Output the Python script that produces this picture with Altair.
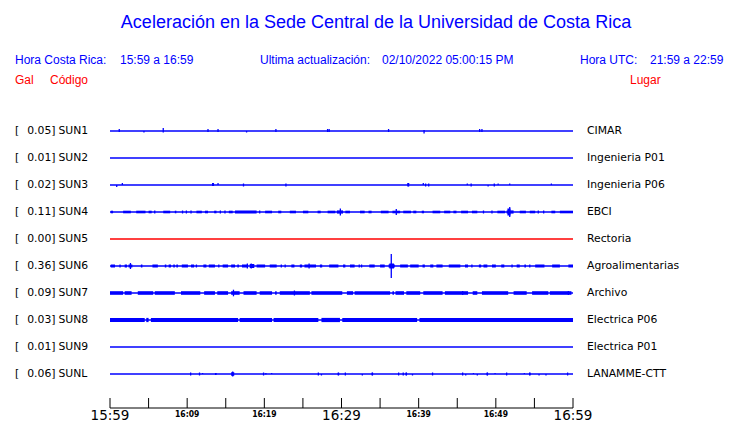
import altair as alt
import pandas as pd

# ---------------- data ----------------
codes = ["SUN1", "SUN2", "SUN3", "SUN4", "SUN5", "SUN6", "SUN7", "SUN8", "SUN9", "SUNL"]
gal = ["0.05", "0.01", "0.02", "0.11", "0.00", "0.36", "0.09", "0.03", "0.01", "0.06"]
places = ["CIMAR", "Ingenieria P01", "Ingenieria P06", "EBCI", "Rectoria",
          "Agroalimentarias", "Archivo", "Electrica P06", "Electrica P01", "LANAMME-CTT"]
trace_colors = ["#0000ff", "#0000ff", "#0000ff", "#0000ff", "#ff0000",
                "#0000ff", "#0000ff", "#0000ff", "#0000ff", "#0000ff"]

# spikes: (minute after 15:59, deflection up, deflection down)
sun1_spikes = [(1.2, 2, 1), (4.4, 0, 1.5), (6.9, 3, 1.5), (12.7, 2, 1), (14.0, 2, 1),
               (17.7, 0, 1.5), (21.5, 2, 1), (28.2, 2, 1), (28.4, 2, 1), (36.1, 2, 1),
               (40.7, 1, 2.5), (47.9, 2, 1), (48.2, 2, 1)]
sun2_spikes = []
sun3_spikes = [(0.87, 0, 2), (1.6, 2, 0), (13.3, 2, 1), (13.4, 2, 1), (14.0, 2, 0), (17.3, 1.5, 1.5),
               (22.8, 1.5, 1.5), (38.6, 2, 1.5), (38.7, 2, 1.5), (40.6, 2, 0), (40.9, 1.5, 1.5),
               (41.3, 1.5, 1.5), (46.3, 1.5, 0), (46.8, 1.5, 1.5), (49.0, 0, 1.5),
               (49.8, 1.5, 1.5), (50.3, 1.5, 0), (51.8, 1.5, 0), (57.2, 1.5, 0)]
sun4_spikes = [(5.8, 1.5, 1.5), (9.4, 1.5, 1.5), (9.9, 1.5, 1.5), (10.5, 1.5, 1.5),
               (14.3, 1.5, 1.5), (14.9, 1.5, 1.5), (19.4, 1.5, 1.5), (29.85, 3.5, 3.5),
               (37.1, 3, 3), (48.4, 1.5, 1.5), (49.5, 1.5, 1.5), (51.8, 5, 5),
               (55.5, 1.5, 1.5), (56.2, 1.5, 1.5)]
sun5_spikes = []
sun6_spikes = [(1.3, 1.5, 1.5), (2.65, 3, 3), (11.2, 1.5, 1.5), (14.1, 1.5, 1.5),
               (17.8, 2.5, 2.5), (18.3, 2.5, 2.5), (22.2, 1.5, 1.5), (22.7, 1.5, 1.5),
               (25.8, 2.5, 2.5), (32.3, 1.5, 1.5), (32.6, 1.5, 1.5), (36.45, 12, 12),
               (46.9, 1.5, 1.5), (52.1, 1.5, 1.5), (54.4, 1.5, 1.5)]
sun7_spikes = [(16.0, 3.3, 3.3), (23.9, 2.5, 2.5), (45.7, 2, 2), (59.4, 2, 2)]
sun8_spikes = []
sun9_spikes = []
sunl_spikes = [(10.45, 1.5, 1.5), (11.6, 1.5, 1.5), (12.0, 1, 0), (13.7, 1, 0.5),
               (15.9, 2.5, 2.5), (19.9, 1.5, 1.5), (20.2, 1, 0.5), (20.95, 1, 0),
               (27.0, 1.5, 1.5), (27.4, 0, 1.5), (29.6, 1.5, 1.5), (30.5, 1.5, 1.5),
               (32.7, 0, 1.5), (34.0, 1.5, 1.5), (37.4, 1.5, 1.5), (38.0, 1.5, 1.5),
               (38.4, 1.5, 1.5), (39.2, 0, 1.5), (41.8, 1.5, 1.5), (45.7, 1.5, 1.5),
               (46.1, 0, 1.5), (47.1, 1, 0), (47.6, 0, 1.5), (48.9, 1.5, 1.5),
               (49.9, 1, 0), (51.4, 1.5, 1.5), (53.7, 1, 0), (54.4, 1.5, 1.5),
               (55.6, 0, 1.5), (56.5, 0, 1.5), (59.3, 1.5, 1.5)]

# noisy stretches: (start minute, end minute, half-amplitude)
sun4_blocks = [(0.1, 0.4, 1.3), (1.7, 2.7, 1.3), (3.4, 4.6, 1.3), (5.0, 5.4, 1.3), (6.9, 7.8, 1.3),
               (8.4, 8.6, 1.3), (11.2, 11.9, 1.3), (12.3, 12.7, 1.3), (13.5, 13.8, 1.3),
               (15.4, 15.9, 1.3), (16.2, 19.0, 1.4), (20.1, 21.0, 1.3), (21.8, 22.2, 1.3),
               (23.3, 24.1, 1.3), (25.0, 25.7, 1.3), (26.9, 27.3, 1.3), (28.2, 29.2, 1.3),
               (29.4, 30.2, 1.6), (30.5, 31.1, 1.3), (32.4, 33.0, 1.3), (33.5, 33.9, 1.3),
               (35.1, 36.1, 1.3), (36.6, 37.6, 1.3), (38.0, 39.0, 1.3), (39.3, 39.7, 1.3),
               (40.4, 40.7, 1.3), (41.8, 42.8, 1.3), (43.3, 44.1, 1.3), (44.5, 44.9, 1.3),
               (45.5, 46.4, 1.3), (46.9, 47.6, 1.3), (50.2, 51.2, 1.3), (51.4, 52.3, 1.6),
               (51.5, 51.9, 3.5), (53.1, 53.9, 1.3), (54.4, 55.1, 1.3), (57.2, 57.7, 1.3),
               (58.3, 60.0, 1.3)]
sun6_blocks = [(0.1, 0.65, 1.5), (1.9, 2.2, 1.5), (2.4, 2.9, 1.5), (4.0, 4.2, 1.5), (5.5, 6.2, 1.5),
               (7.1, 7.3, 1.5), (7.6, 7.9, 1.5), (8.2, 8.4, 1.5), (8.6, 8.8, 1.5), (9.3, 10.1, 1.5),
               (10.5, 10.9, 1.5), (12.1, 12.5, 1.5), (12.8, 13.6, 1.5), (14.6, 15.3, 1.5),
               (15.7, 16.2, 1.5), (16.5, 16.7, 1.5), (17.1, 17.9, 1.5), (18.1, 18.7, 2.0),
               (19.0, 20.1, 1.5), (20.7, 21.6, 1.5), (23.5, 23.9, 1.5), (24.6, 24.9, 1.5),
               (25.2, 26.7, 1.5), (27.2, 27.5, 1.5), (28.4, 29.6, 1.5), (30.2, 30.5, 1.5),
               (31.1, 31.7, 1.5), (33.6, 34.3, 1.5), (35.0, 35.6, 1.5), (36.1, 36.9, 1.6),
               (36.2, 36.8, 2.5), (37.6, 38.6, 1.5), (38.9, 40.0, 1.5), (40.5, 40.8, 1.5),
               (41.5, 41.9, 1.5), (42.3, 43.1, 1.5), (43.9, 45.4, 1.5), (46.0, 46.4, 1.5),
               (47.8, 48.1, 1.5), (48.4, 48.9, 1.5), (49.5, 50.0, 1.5), (50.7, 51.1, 1.5),
               (52.7, 53.1, 1.5), (53.7, 53.9, 1.5), (55.1, 56.3, 1.5), (57.3, 58.3, 1.5),
               (59.4, 60.0, 1.5)]
sun7_blocks = [(0.0, 1.7, 1.8), (1.9, 2.8, 1.8), (3.6, 5.6, 1.8), (5.8, 8.4, 1.8), (9.2, 11.7, 1.8),
               (12.2, 13.6, 1.8), (13.9, 15.3, 1.8), (15.7, 16.8, 1.8), (17.3, 19.0, 1.8),
               (19.4, 21.0, 1.8), (21.4, 21.6, 1.8), (22.0, 25.9, 1.8), (26.1, 30.1, 1.8),
               (30.7, 31.5, 1.8), (31.7, 36.3, 1.8), (36.6, 36.8, 1.8), (37.0, 38.1, 1.8),
               (38.4, 40.2, 1.8), (40.6, 43.1, 1.8), (43.4, 46.4, 1.8), (47.0, 47.6, 1.8),
               (48.2, 51.6, 1.8), (52.3, 54.0, 1.8), (54.7, 56.8, 1.8), (57.0, 59.8, 1.8)]
sun8_blocks = [(0.0, 4.5, 2.1), (4.7, 5.0, 2.1), (5.3, 16.6, 2.1), (16.8, 21.0, 2.1),
               (21.2, 27.0, 2.1), (27.4, 29.8, 2.1), (30.1, 39.8, 2.1), (40.1, 60.0, 2.1)]
sunl_blocks = [(13.6, 13.8, 1.0), (15.7, 16.1, 1.8), (29.5, 29.7, 1.2), (33.9, 34.1, 1.3),
               (38.3, 38.5, 1.3), (48.8, 49.0, 1.3), (54.3, 54.5, 1.2)]

tick_minutes = [0, 5, 10, 15, 20, 25, 30, 35, 40, 45, 50, 55, 60]
major_minutes = [0, 30, 60]
major_labels = ["15:59", "16:29", "16:59"]
minor_minutes = [10, 20, 40, 50]
minor_labels = ["16:09", "16:19", "16:39", "16:49"]

# ---------------- tables ----------------
ROW_PX = 27.0  # trace spacing on screen; deflections are given in screen pixels

spikes_by_code = {"SUN1": sun1_spikes, "SUN2": sun2_spikes, "SUN3": sun3_spikes, "SUN4": sun4_spikes,
                  "SUN5": sun5_spikes, "SUN6": sun6_spikes, "SUN7": sun7_spikes, "SUN8": sun8_spikes,
                  "SUN9": sun9_spikes, "SUNL": sunl_spikes}
blocks_by_code = {"SUN4": sun4_blocks, "SUN6": sun6_blocks, "SUN7": sun7_blocks,
                  "SUN8": sun8_blocks, "SUNL": sunl_blocks}

base = pd.DataFrame({
    "code": codes, "row": list(range(len(codes))), "gal": [g + "]" for g in gal],
    "place": places, "color": trace_colors, "t0": 0.0, "t1": 60.0,
})

spk = []
for code, lst in spikes_by_code.items():
    r = codes.index(code)
    for t, up, dn in lst:
        spk.append({"t": t, "ytop": r - up / ROW_PX, "ybot": r + dn / ROW_PX, "color": trace_colors[r]})
spikes = pd.DataFrame(spk)

blk = []
for code, lst in blocks_by_code.items():
    r = codes.index(code)
    for t0, t1, a in lst:
        blk.append({"t0": t0, "t1": t1, "ytop": r - a / ROW_PX, "ybot": r + a / ROW_PX, "color": trace_colors[r]})
blocks = pd.DataFrame(blk)

xscale = alt.Scale(domain=[0, 60], range=[102, 565], nice=False, zero=False)
yscale = alt.Scale(domain=[0, 9], range=[123, 366], nice=False, zero=False)
col = alt.Color("color:N", scale=None)

lines = alt.Chart(base).mark_rule(strokeWidth=1.3).encode(
    x=alt.X("t0:Q", scale=xscale, axis=None), x2="t1:Q",
    y=alt.Y("row:Q", scale=yscale, axis=None), color=col)

rects = alt.Chart(blocks).mark_rect().encode(
    x=alt.X("t0:Q", scale=xscale, axis=None), x2="t1:Q",
    y=alt.Y("ytop:Q", scale=yscale, axis=None), y2="ybot:Q", color=col)

spk_layer = alt.Chart(spikes).mark_rule(strokeWidth=1.3).encode(
    x=alt.X("t:Q", scale=xscale, axis=None),
    y=alt.Y("ytop:Q", scale=yscale, axis=None), y2="ybot:Q", color=col)

lab_font = "DejaVu Sans"
lab_size = 10.8
bracket = alt.Chart(base).mark_text(align="left", baseline="middle", font=lab_font,
                                    fontSize=lab_size, color="black").encode(
    x=alt.value(7), y=alt.Y("row:Q", scale=yscale, axis=None), text=alt.value("["))
galtxt = alt.Chart(base).mark_text(align="right", baseline="middle", font=lab_font,
                                   fontSize=lab_size, color="black").encode(
    x=alt.value(47.5), y=alt.Y("row:Q", scale=yscale, axis=None), text="gal:N")
codetxt = alt.Chart(base).mark_text(align="left", baseline="middle", font=lab_font,
                                    fontSize=lab_size, color="black").encode(
    x=alt.value(50.5), y=alt.Y("row:Q", scale=yscale, axis=None), text="code:N")
placetxt = alt.Chart(base).mark_text(align="left", baseline="middle", font=lab_font,
                                     fontSize=lab_size, color="black").encode(
    x=alt.value(579), y=alt.Y("row:Q", scale=yscale, axis=None), text="place:N")

# time axis (ticks point upward)
axis_line = alt.Chart(pd.DataFrame({"a": [0.0], "b": [60.0]})).mark_rule(color="black", strokeWidth=1).encode(
    x=alt.X("a:Q", scale=xscale, axis=None), x2="b:Q", y=alt.value(400))
ticks = alt.Chart(pd.DataFrame({"t": tick_minutes})).mark_rule(color="black", strokeWidth=1).encode(
    x=alt.X("t:Q", scale=xscale, axis=None), y=alt.value(390), y2=alt.value(400))
major = alt.Chart(pd.DataFrame({"t": major_minutes, "s": major_labels})).mark_text(
    align="center", baseline="middle", font="DejaVu Sans", fontSize=13.5, color="black").encode(
    x=alt.X("t:Q", scale=xscale, axis=None), y=alt.value(408), text="s:N")
minor = alt.Chart(pd.DataFrame({"t": minor_minutes, "s": minor_labels})).mark_text(
    align="center", baseline="middle", font="DejaVu Sans Condensed", fontSize=8.5,
    fontWeight="bold", color="black").encode(
    x=alt.X("t:Q", scale=xscale, axis=None), y=alt.value(406), text="s:N")


def txt(s, x, y, color, size=12, align="left"):
    return alt.Chart(pd.DataFrame({"s": [s]})).mark_text(
        align=align, baseline="middle", font="Liberation Sans", fontSize=size, color=color).encode(
        x=alt.value(x), y=alt.value(y), text="s:N")


blue = "#0000ff"
red = "#ff0000"
headers = [
    txt("Aceleración en la Sede Central de la Universidad de Costa Rica", 368, 15, blue, 18, "center"),
    txt("Hora Costa Rica:", 7, 52, blue),
    txt("15:59 a 16:59", 112, 52, blue),
    txt("Ultima actualización:", 252, 52, blue),
    txt("02/10/2022 05:00:15 PM", 374, 52, blue),
    txt("Hora UTC:", 572, 52, blue),
    txt("21:59 a 22:59", 642, 52, blue),
    txt("Gal", 7, 72, red),
    txt("Código", 42, 72, red),
    txt("Lugar", 622, 72, red),
]

chart = alt.layer(
    lines, rects, spk_layer, bracket, galtxt, codetxt, placetxt,
    axis_line, ticks, major, minor, *headers
).properties(
    width=724, height=415, autosize=alt.AutoSizeParams(type="none"), padding=0,
    background="white"
).configure_view(strokeWidth=0)

chart.save("out.html", embed_options={"renderer": "svg", "actions": False})
